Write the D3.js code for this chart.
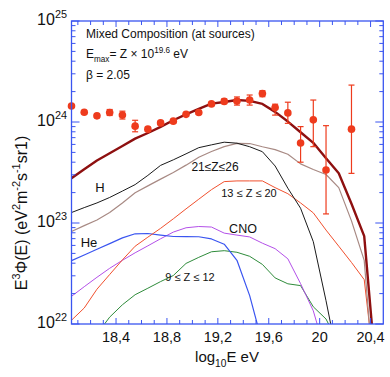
<!DOCTYPE html>
<html><head><meta charset="utf-8">
<script src="https://cdn.jsdelivr.net/npm/d3@7"></script>
<style>body{margin:0;background:#fff}svg{display:block}text{font-family:"Liberation Sans",Arial,Helvetica,sans-serif;fill:#111}</style>
</head><body><svg id="c" width="390" height="377"></svg>
<script>
// energy grid (log10 E / eV)
const logE = [18.05,18.15,18.25,18.35,18.45,18.55,18.65,18.75,18.85,18.95,19.05,19.15,19.25,19.35,19.45,19.55,19.65,19.75,19.85,19.95,20.05,20.15,20.25,20.35,20.45];
// model curves, E^3 Phi in units of 1e23
const totalModel = [2.78,3.40,4.16,4.91,5.78,6.84,7.78,8.95,10.4,11.9,13.5,15.2,15.8,16.5,16.2,15.1,12.6,10.1,7.91,6.22,4.37,3.11,1.55,0.741,0.026];
const hydrogen   = [1.27,1.42,1.58,1.79,2.07,2.40,2.96,3.72,4.22,4.84,5.57,5.94,6.31,6.17,5.69,5.08,3.67,2.21,1.40,0.653,0.170,0.04,null,null,null];
const z21to26    = [0.824,0.942,1.07,1.27,1.58,1.99,2.33,2.72,3.16,3.74,4.47,5.11,5.71,6.15,6.12,5.69,5.33,4.79,3.85,3.39,3.02,2.24,1.05,0.427,0.012];
const z13to20    = [0.109,0.144,0.221,0.309,0.431,0.589,0.724,0.885,1.10,1.38,1.72,2.14,2.57,2.61,2.61,2.61,2.24,1.95,1.58,1.26,0.851,0.589,0.407,0.275,0.022];
const helium     = [0.424,0.482,0.550,0.625,0.713,0.782,0.787,0.759,0.735,0.733,0.731,0.695,0.617,0.427,0.191,0.0646,null,null,null,null,null,null,null,null,null];
const cno        = [0.188,0.234,0.290,0.356,0.427,0.507,0.594,0.698,0.813,0.897,0.923,0.912,0.794,0.759,0.728,0.631,0.557,0.442,0.251,0.135,0.0501,null,null,null,null];
const z9to12     = [null,0.0537,0.0794,0.117,0.155,0.195,0.226,0.263,0.302,0.398,0.457,0.519,0.532,0.513,0.468,0.389,0.286,0.250,0.240,0.148,0.112,0.0631,null,null,null];
// measured points, E^3 Phi in units of 1e24
const dataE  = [18.05,18.15,18.25,18.35,18.45,18.55,18.65,18.75,18.85,18.95,19.05,19.15,19.25,19.35,19.45,19.55,19.65,19.75,19.85,19.95,20.05,20.25];
const dataF  = [1.44,1.25,1.15,1.24,1.17,0.91,0.85,0.98,1.02,1.19,1.24,1.51,1.60,1.61,1.65,1.91,1.39,1.23,0.62,1.05,0.335,0.85];
const dataLo = [1.40,1.21,1.10,1.16,1.07,0.80,0.81,0.94,0.98,1.14,1.19,1.45,1.52,1.47,1.47,1.78,1.17,0.97,0.40,0.57,0.123,0.31];
const dataHi = [1.48,1.30,1.20,1.33,1.28,1.04,0.89,1.02,1.06,1.24,1.29,1.57,1.69,1.77,1.85,2.04,1.50,1.57,0.90,1.65,0.92,2.32];
// axis ticks
const xTickValues = [18.4,18.8,19.2,19.6,20.0,20.4];
const xTickLabels = ["18,4","18,8","19,2","19,6","20","20,4"];
const yDecades = [22,23,24,25];

const W=390, H=377, m={l:71.5,t:21,r:6.7,b:53};
const svg = d3.select("#c");
const x = d3.scaleLinear().domain([18.05,20.5]).range([m.l, W-m.r]);
const y = d3.scaleLog().domain([1e22,1e25]).range([H-m.b, m.t]);
const AX = "#3a55f0";

svg.append("defs").append("clipPath").attr("id","clip")
  .append("rect").attr("x",m.l).attr("y",m.t).attr("width",W-m.r-m.l).attr("height",H-m.b-m.t);

// rich text helper
function rich(sel, parts, size){
  let shift=0;
  parts.forEach(p=>{
    const target = p.sup ? -size*0.42 : p.sub ? size*0.3 : 0;
    sel.append("tspan").attr("dy", target-shift).attr("font-size", (p.sup||p.sub)? size*0.68 : size).text(p.t);
    shift = target;
  });
}

// curves
const series = [
  {v:z9to12, c:"#2e8b3a", w:1},
  {v:cno, c:"#b350e8", w:1},
  {v:helium, c:"#3a55f0", w:1.2},
  {v:z13to20, c:"#f0502e", w:1},
  {v:z21to26, c:"#a88a84", w:1.2},
  {v:hydrogen, c:"#1a1a1a", w:1},
  {v:totalModel, c:"#8e1010", w:2.4},
];
const g = svg.append("g").attr("clip-path","url(#clip)");
series.forEach(s=>{
  const pts = logE.map((e,i)=>[e, s.v[i]]);
  const line = d3.line().defined(d=>d[1]!=null).x(d=>x(d[0])).y(d=>y(d[1]*1e23));
  g.append("path").attr("d", line(pts)).attr("fill","none").attr("stroke",s.c).attr("stroke-width",s.w).attr("stroke-linejoin","round");
});

// data points
const RED = "#ee3b1d";
const pg = svg.append("g");
dataE.forEach((e,i)=>{
  const cx = x(e);
  const y1 = y(dataLo[i]*1e24), y2 = y(dataHi[i]*1e24);
  pg.append("line").attr("x1",cx).attr("x2",cx).attr("y1",y1).attr("y2",y2).attr("stroke",RED).attr("stroke-width",1.2);
  [y1,y2].forEach(yy=>pg.append("line").attr("x1",cx-3).attr("x2",cx+3).attr("y1",yy).attr("y2",yy).attr("stroke",RED).attr("stroke-width",1.2));
  pg.append("circle").attr("cx",cx).attr("cy",y(dataF[i]*1e24)).attr("r",3.8).attr("fill",RED);
});

// frame
svg.append("rect").attr("x",m.l).attr("y",m.t).attr("width",W-m.r-m.l).attr("height",H-m.b-m.t)
  .attr("fill","none").attr("stroke",AX).attr("stroke-width",1.3);

// x ticks (minor every 0.1)
const xMinor = d3.range(181,205).map(k=>k/10);
const tg = svg.append("g").attr("stroke",AX).attr("stroke-width",1);
xMinor.forEach(v=>{
  const major = xTickValues.some(t=>Math.abs(t-v)<1e-6);
  const len = major?6:4;
  tg.append("line").attr("x1",x(v)).attr("x2",x(v)).attr("y1",H-m.b).attr("y2",H-m.b-len);
  tg.append("line").attr("x1",x(v)).attr("x2",x(v)).attr("y1",m.t).attr("y2",m.t+len);
});
// y ticks
yDecades.forEach(d=>{
  for(let k=1;k<=9;k++){
    const v = k*Math.pow(10,d);
    if(v>1e25) break;
    const len = k===1?8:4;
    tg.append("line").attr("x1",m.l).attr("x2",m.l+len).attr("y1",y(v)).attr("y2",y(v));
    tg.append("line").attr("x1",W-m.r).attr("x2",W-m.r-len).attr("y1",y(v)).attr("y2",y(v));
  }
});

// x tick labels
xTickValues.forEach((v,i)=>{
  svg.append("text").attr("x",x(v)).attr("y",342).attr("text-anchor","middle").attr("font-size",14.5).text(xTickLabels[i]);
});
// y tick labels
yDecades.forEach(d=>{
  const t = svg.append("text").attr("x",67).attr("y",y(Math.pow(10,d))+4).attr("text-anchor","end");
  rich(t,[{t:"10"},{t:String(d),sup:true}],16);
});

// axis titles
const xl = svg.append("text").attr("x",227).attr("y",362).attr("text-anchor","middle");
rich(xl,[{t:"log"},{t:"10",sub:true},{t:"E eV"}],15);
const yl = svg.append("text").attr("transform","translate(27,213) rotate(-90)").attr("text-anchor","middle");
rich(yl,[{t:"E"},{t:"3",sup:true},{t:"Φ(E) (eV"},{t:"2",sup:true},{t:"m"},{t:"-2",sup:true},{t:"s"},{t:"-1",sup:true},{t:"sr1)"}],16);

// annotation block
svg.append("text").attr("x",86).attr("y",38).attr("font-size",12).text("Mixed Composition (at sources)");
const t2 = svg.append("text").attr("x",86).attr("y",58);
rich(t2,[{t:"E"},{t:"max",sub:true},{t:"= Z × 10"},{t:"19.6",sup:true},{t:" eV"}],12);
svg.append("text").attr("x",86).attr("y",79).attr("font-size",12).text("β = 2.05");

// curve labels
const labels = [
  {t:"H", x:100, y:192, s:13},
  {t:"He", x:89, y:247, s:13},
  {t:"CNO", x:243, y:233, s:12.5},
  {t:"21≤Z≤26", x:215, y:171, s:12},
  {t:"13 ≤ Z ≤ 20", x:249, y:197, s:11},
  {t:"9 ≤ Z ≤ 12", x:190, y:281, s:11},
];
labels.forEach(l=>svg.append("text").attr("x",l.x).attr("y",l.y).attr("text-anchor","middle").attr("font-size",l.s).attr("fill","#222").text(l.t));
</script></body></html>
